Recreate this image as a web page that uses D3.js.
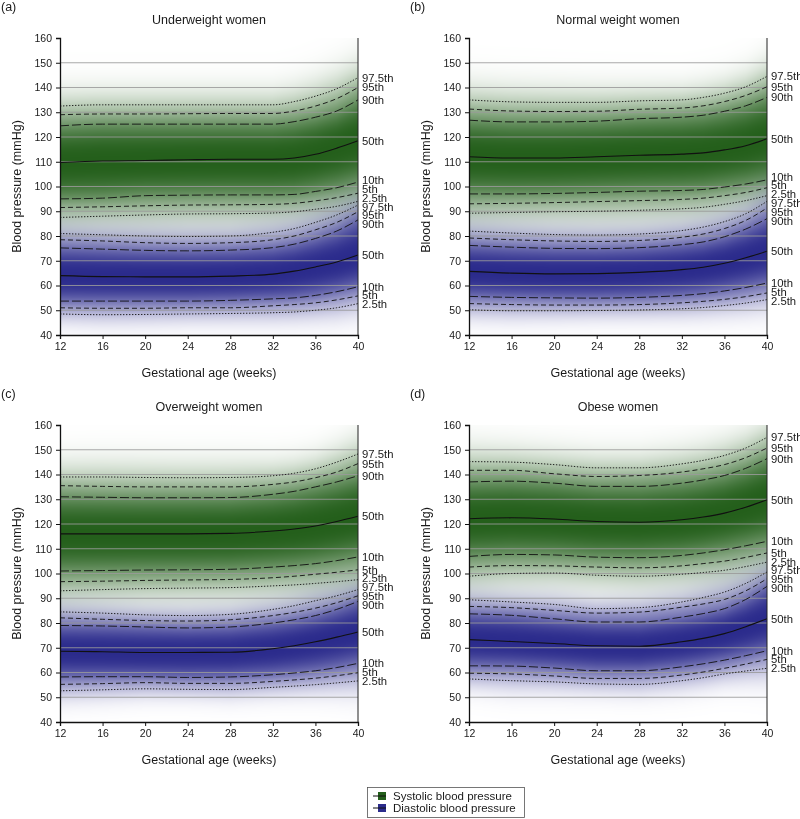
<!DOCTYPE html>
<html><head><meta charset="utf-8">
<script src="https://cdn.jsdelivr.net/npm/d3@7"></script>
<style>
body{margin:0;background:#fff;}
#wrap{position:relative;width:800px;height:819px;}
canvas,svg{position:absolute;left:0;top:0;}
text{font-family:"Liberation Sans",Arial,Helvetica,sans-serif;fill:#1a1a1a;}
</style></head><body>
<div id="wrap"><canvas id="bg" width="800" height="819"></canvas><svg id="chart" width="800" height="819"></svg></div>
<script>
// Gestational weeks at which percentile values were read
const weeks = [12, 16, 20, 24, 28, 32, 34, 36, 38, 40];
const percentileLabels = ["2.5th", "5th", "10th", "50th", "90th", "95th", "97.5th"];
const percentileZ = [-1.96, -1.645, -1.2816, 0, 1.2816, 1.645, 1.96];
const yTicks = [40, 50, 60, 70, 80, 90, 100, 110, 120, 130, 140, 150, 160];
const xTicks = [12, 16, 20, 24, 28, 32, 36, 40];
const panelLetters = ["(a)", "(b)", "(c)", "(d)"];
const panelTitles = ["Underweight women", "Normal weight women", "Overweight women", "Obese women"];
const legendLabels = ["Systolic blood pressure", "Diastolic blood pressure"];

// rows: 2.5th, 5th, 10th, 50th, 90th, 95th, 97.5th
const underweightSystolic = [
  [87.5, 88, 88.5, 88.9, 89, 89.3, 89.8, 90.8, 92, 94],
  [91.5, 91.8, 92.2, 92.5, 92.6, 92.8, 93.2, 94.2, 95.5, 97.3],
  [95, 95.3, 96.3, 96.5, 96.6, 96.6, 96.8, 98, 99.5, 101.8],
  [109.7, 110.3, 110.5, 110.8, 111, 111, 111.5, 113, 115.5, 118.5],
  [124.5, 125.2, 125.2, 125.2, 125.2, 125.2, 126.2, 128, 130.5, 135],
  [129, 129.3, 129.3, 129.4, 129.5, 129.5, 130.5, 132.5, 135.5, 140],
  [132.5, 133, 133, 133, 133, 133, 134.3, 136.5, 139.5, 144]
];
const underweightDiastolic = [
  [48.5, 48.2, 48.3, 48.5, 48.7, 49, 49.3, 50, 51, 52.7],
  [51, 50.8, 50.8, 51, 51, 51.8, 52.3, 53, 54.2, 55.8],
  [53.7, 53.7, 53.7, 53.7, 54, 54.6, 55, 56, 57.5, 59.5],
  [64, 63.6, 63.5, 63.5, 63.8, 64.6, 65.8, 67.5, 69.5, 72.3],
  [75.2, 74.7, 74.2, 74, 74.3, 75.3, 76.7, 79, 82, 86.5],
  [78.5, 78, 77.3, 77, 77.3, 78.5, 80, 82.5, 85.5, 89.8],
  [81, 80.5, 80, 79.8, 80, 81.5, 83, 85.5, 88.5, 92.5]
];
const normalSystolic = [
  [89.2, 89.5, 89.8, 90, 90.4, 91, 91.6, 92.8, 94.3, 96.3],
  [93, 93.2, 93.5, 93.9, 94.3, 94.8, 95.3, 96.3, 97.6, 99.5],
  [97, 97, 97.2, 97.6, 98.1, 98.4, 98.8, 99.8, 101, 102.7],
  [112, 111.5, 111.5, 112, 112.6, 113.1, 113.6, 114.8, 116.5, 119.3],
  [126.8, 126.1, 126.1, 126.4, 127.4, 128, 128.8, 130.4, 132.6, 136],
  [131.3, 130.5, 130.3, 130.4, 131.2, 131.7, 132.6, 134.3, 136.8, 140.3],
  [135, 134.2, 134, 134, 134.6, 135, 136, 137.7, 140.3, 144.5]
];
const normalDiastolic = [
  [50.2, 49.8, 49.8, 49.9, 50.1, 50.6, 51.1, 51.9, 52.9, 54.3],
  [52.7, 52.3, 52.1, 52.1, 52.3, 53, 53.6, 54.4, 55.5, 57],
  [55.6, 55.2, 55, 54.9, 55.2, 56, 56.7, 57.8, 59.2, 61],
  [65.7, 65, 64.7, 64.8, 65.3, 66.4, 67.4, 69, 71.2, 73.8],
  [76.2, 75.5, 75, 74.9, 75.3, 76.5, 77.6, 79.7, 82.8, 87],
  [79.2, 78.5, 78, 77.8, 78.2, 79.5, 80.8, 83, 86.3, 91.3],
  [82, 81.2, 80.6, 80.4, 80.8, 82.2, 83.6, 85.8, 89, 94]
];
const overweightSystolic = [
  [93, 93.5, 93.9, 94.1, 94.3, 95, 95.4, 96, 96.7, 97.5],
  [96.7, 96.9, 97.2, 97.4, 97.6, 98.3, 98.9, 99.7, 100.5, 101.5],
  [101, 101.2, 101.4, 101.5, 101.7, 102.6, 103.2, 104, 105.2, 106.7],
  [116, 116, 116, 116, 116.2, 117.2, 118, 119.2, 121, 123.1],
  [131, 130.8, 130.6, 130.6, 130.7, 132, 133.2, 135, 137, 139.5],
  [135.5, 135.2, 135, 135, 135, 136, 137, 138.7, 141, 144.4],
  [139, 139, 138.8, 138.7, 138.8, 139.5, 140.5, 142.3, 145, 148.3]
];
const overweightDiastolic = [
  [52.6, 53, 53.4, 53.2, 53.1, 54, 54.5, 55.1, 55.8, 56.6],
  [55.2, 55.5, 55.9, 55.6, 55.6, 56.4, 57, 57.7, 58.7, 59.9],
  [58.2, 58.3, 58.3, 58, 58.2, 59.1, 59.8, 60.7, 62, 63.7],
  [68.6, 68.4, 68.1, 68.1, 68.2, 69.6, 70.8, 72.4, 74.3, 76.4],
  [79, 78.8, 78.4, 78, 78.4, 80, 81.3, 83, 85.5, 88.7],
  [82.1, 81.5, 81, 80.8, 81.3, 83, 84.3, 86, 88.2, 91],
  [84.5, 84, 83.3, 83, 83.5, 85.5, 87, 89, 91, 93.5]
];
const obeseSystolic = [
  [98.9, 100, 100.2, 99.3, 98.9, 99.7, 100.4, 101.3, 102.8, 104.6],
  [102.6, 103.2, 103.1, 102.6, 102.3, 103.1, 104, 105, 106.5, 108.3],
  [106.9, 107.7, 107.5, 106.6, 106.4, 107.3, 108.3, 109.6, 111.2, 113],
  [122.1, 122.5, 122, 121, 120.7, 121.7, 122.8, 124.4, 126.8, 129.8],
  [137, 137.3, 136.5, 135.2, 135.2, 136.5, 137.8, 139.6, 142.5, 146.4],
  [141.7, 141.7, 140.3, 139.2, 139.6, 141, 142.3, 144, 146.8, 150.7],
  [145.2, 145, 144, 142.7, 142.7, 144.3, 145.7, 147.7, 150.7, 155]
];
const obeseDiastolic = [
  [57.4, 56.7, 56.2, 55.4, 55.2, 56.7, 57.9, 59.4, 60.6, 61.7],
  [59.7, 59.4, 58.6, 57.6, 57.6, 59, 60.2, 61.7, 63.4, 65.3],
  [62.7, 62.6, 61.8, 60.7, 60.7, 62.3, 63.5, 65, 66.8, 68.8],
  [73.3, 72.5, 71.7, 70.8, 70.6, 72.4, 73.8, 75.7, 78.5, 81.7],
  [83.7, 83.1, 81.7, 80.4, 80.4, 82.4, 83.8, 85.8, 89.5, 94.8],
  [86.7, 86.2, 85.1, 84, 84.4, 86.4, 87.7, 89.5, 93, 97.9],
  [89.4, 88.5, 87.5, 85.8, 86.2, 88.5, 90.3, 92.5, 96, 100.6]
];

const systolicData = [underweightSystolic, normalSystolic, overweightSystolic, obeseSystolic];
const diastolicData = [underweightDiastolic, normalDiastolic, overweightDiastolic, obeseDiastolic];

const GREEN = d3.rgb("#245f1b");
const BLUE = d3.rgb("#2b2b8c");
const dashFor = ["1.4,1.6", "5,3", "9,3", null, "9,3", "5,3", "1.4,1.6"];

const svg = d3.select("#chart");
const ctx = document.getElementById("bg").getContext("2d");
ctx.fillStyle = "#fff"; ctx.fillRect(0, 0, 800, 819);

const layout = [
  {left: 60, top: 38}, {left: 469, top: 38},
  {left: 60, top: 425}, {left: 469, top: 425}
];
const W = 298, H = 297;

function interpAt(row, wk) {
  return d3.scaleLinear().domain(weeks).range(row)(wk);
}
function zOf(v, p) {
  const slope = (p[6] - p[4]) / (percentileZ[6] - percentileZ[4]);
  const slopeL = (p[2] - p[0]) / (percentileZ[2] - percentileZ[0]);
  if (v >= p[6]) return percentileZ[6] + (v - p[6]) / slope;
  if (v <= p[0]) return percentileZ[0] - (p[0] - v) / slopeL;
  for (let i = 0; i < 6; i++) {
    if (v >= p[i] && v <= p[i + 1]) {
      return percentileZ[i] + (v - p[i]) / (p[i + 1] - p[i]) * (percentileZ[i + 1] - percentileZ[i]);
    }
  }
  return 0;
}
function intensity(z) {
  return Math.exp(-Math.pow(Math.abs(z) / 1.85, 2.5));
}

function relax(items, gap) {
  items.sort((a, b) => a.y - b.y);
  for (let it = 0; it < 200; it++) {
    let moved = false;
    for (let i = 1; i < items.length; i++) {
      const d = items[i].y - items[i - 1].y;
      if (d < gap) {
        const s = (gap - d) / 2;
        items[i].y += s; items[i - 1].y -= s; moved = true;
      }
    }
    if (!moved) break;
  }
}

layout.forEach((L, idx) => {
  const x = d3.scaleLinear().domain([12, 40]).range([L.left, L.left + W]);
  const y = d3.scaleLinear().domain([40, 160]).range([L.top + H, L.top]);
  const sys = systolicData[idx], dia = diastolicData[idx];

  // shading
  const img = ctx.getImageData(L.left, L.top, W, H);
  for (let px = 0; px < W; px++) {
    const wk = x.invert(L.left + px + 0.5);
    const ps = sys.map(r => interpAt(r, wk));
    const pd = dia.map(r => interpAt(r, wk));
    for (let py = 0; py < H; py++) {
      const v = y.invert(L.top + py + 0.5);
      const as = intensity(zOf(v, ps));
      const ad = intensity(zOf(v, pd));
      let r = 255, g = 255, b = 255;
      r = r * (1 - as) + GREEN.r * as; g = g * (1 - as) + GREEN.g * as; b = b * (1 - as) + GREEN.b * as;
      r = r * (1 - ad) + BLUE.r * ad; g = g * (1 - ad) + BLUE.g * ad; b = b * (1 - ad) + BLUE.b * ad;
      const k = (py * W + px) * 4;
      img.data[k] = r; img.data[k + 1] = g; img.data[k + 2] = b; img.data[k + 3] = 255;
    }
  }
  ctx.putImageData(img, L.left, L.top);

  const g = svg.append("g");
  // gridlines
  g.selectAll("line.grid").data(yTicks.filter(t => t > 40 && t < 160)).enter().append("line")
    .attr("x1", x(12)).attr("x2", x(40)).attr("y1", d => y(d)).attr("y2", d => y(d))
    .attr("stroke", "#9a9a9a").attr("stroke-opacity", 0.85).attr("stroke-width", 1);

  // percentile lines
  const line = d3.line().x((d, i) => x(weeks[i])).y(d => y(d)).curve(d3.curveMonotoneX);
  [sys, dia].forEach(set => {
    set.forEach((row, i) => {
      g.append("path").attr("d", line(row)).attr("fill", "none")
        .attr("stroke", "#111").attr("stroke-width", i === 3 ? 1.1 : 0.9)
        .attr("stroke-dasharray", dashFor[i]);
    });
  });

  // right border
  g.append("line").attr("x1", x(40)).attr("x2", x(40)).attr("y1", y(40)).attr("y2", y(160))
    .attr("stroke", "#222").attr("stroke-width", 1);

  // axes
  const ya = d3.axisLeft(y).tickValues(yTicks).tickSize(4).tickPadding(4);
  const yg = g.append("g").attr("transform", `translate(${x(12)},0)`).call(ya);
  const xa = d3.axisBottom(x).tickValues(xTicks).tickSize(4).tickPadding(4);
  const xg = g.append("g").attr("transform", `translate(0,${y(40)})`).call(xa);
  [yg, xg].forEach(a => {
    a.select(".domain").attr("stroke", "#111").attr("stroke-width", 1.3);
    a.selectAll(".tick line").attr("stroke", "#111");
    a.selectAll("text").attr("font-size", "10.5px").attr("fill", "#1a1a1a")
      .attr("font-family", '"Liberation Sans",Arial,sans-serif');
  });

  // titles
  g.append("text").attr("x", L.left - 59).attr("y", L.top - 27).attr("font-size", "12.5px").text(panelLetters[idx]);
  g.append("text").attr("x", (x(12) + x(40)) / 2).attr("y", L.top - 14).attr("text-anchor", "middle")
    .attr("font-size", "12.5px").text(panelTitles[idx]);
  g.append("text").attr("x", (x(12) + x(40)) / 2).attr("y", y(40) + 42).attr("text-anchor", "middle")
    .attr("font-size", "12.5px").text("Gestational age (weeks)");
  g.append("text").attr("transform", `translate(${L.left - 39},${(y(40) + y(160)) / 2}) rotate(-90)`)
    .attr("text-anchor", "middle").attr("font-size", "12.5px").text("Blood pressure (mmHg)");

  // right-side labels
  const items = [];
  [sys, dia].forEach(set => set.forEach((row, i) => items.push({label: percentileLabels[i], y: y(row[row.length - 1])})));
  relax(items, 8.8);
  g.selectAll("text.plab").data(items).enter().append("text")
    .attr("x", x(40) + 4).attr("y", d => d.y).attr("dy", "0.35em")
    .attr("font-size", "11.3px").text(d => d.label);
});

// legend
const lg = svg.append("g");
lg.append("rect").attr("x", 367.5).attr("y", 787.5).attr("width", 157).attr("height", 30)
  .attr("fill", "#fff").attr("stroke", "#555").attr("stroke-width", 0.8);
[GREEN, BLUE].forEach((c, i) => {
  const cy = 796 + i * 12;
  lg.append("rect").attr("x", 378).attr("y", cy - 4).attr("width", 8).attr("height", 8).attr("fill", c.toString());
  lg.append("line").attr("x1", 373).attr("x2", 386).attr("y1", cy).attr("y2", cy).attr("stroke", "#111").attr("stroke-width", 1);
  lg.append("text").attr("x", 393).attr("y", cy).attr("dy", "0.35em").attr("font-size", "11.5px").text(legendLabels[i]);
});
</script></body></html>
